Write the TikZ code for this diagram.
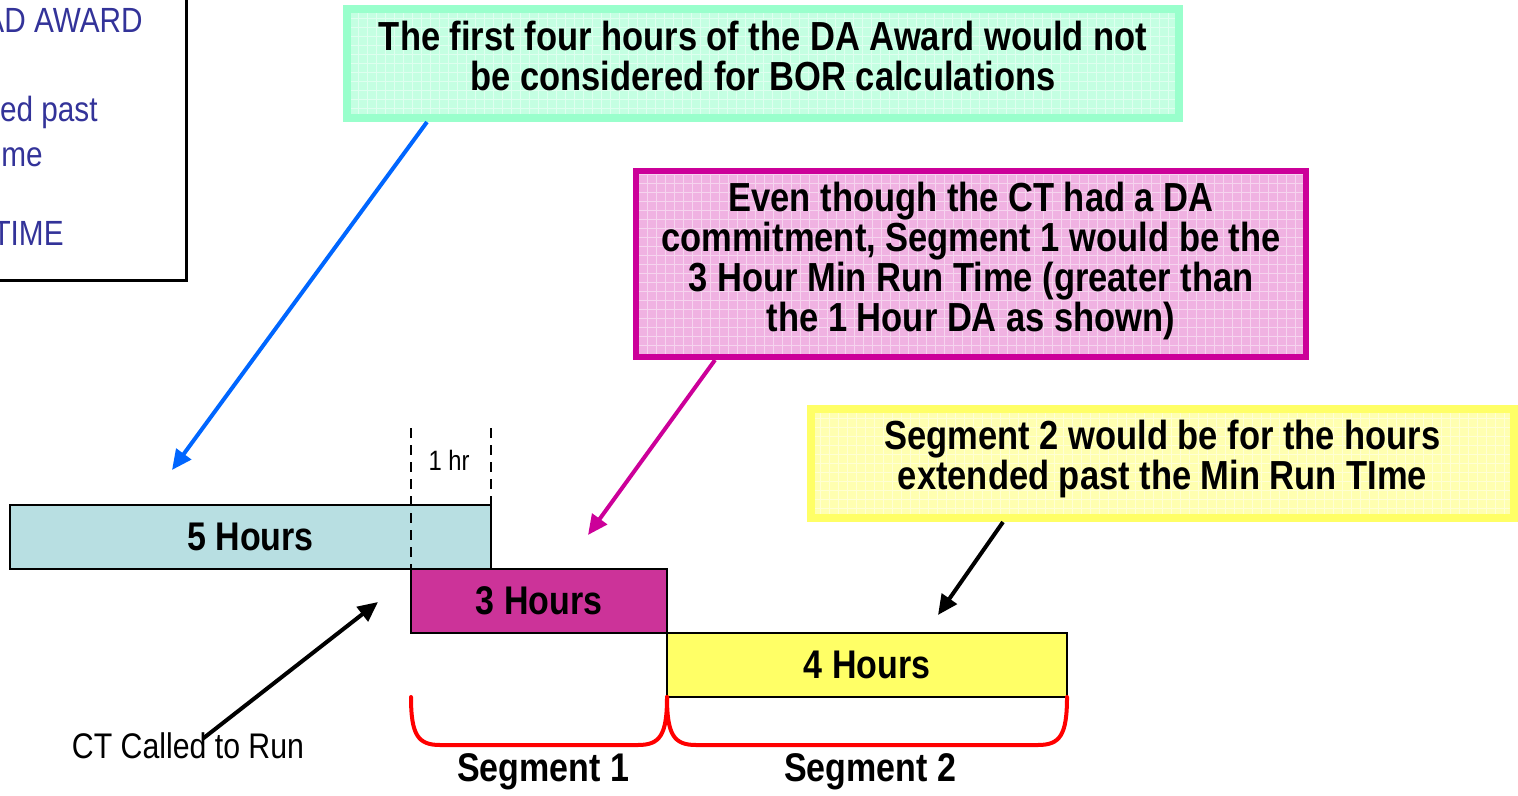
\documentclass[tikz,border=0pt]{standalone}
\usepackage{fontspec}
\setmainfont{Liberation Sans}[FakeStretch=0.85]
\usepackage{xcolor}
\usetikzlibrary{arrows.meta}

\definecolor{barteal}{RGB}{184,223,226}
\definecolor{barmagenta}{RGB}{204,51,153}
\definecolor{baryellow}{RGB}{255,255,102}
\definecolor{mintline}{RGB}{153,255,204}
\definecolor{mintfill}{RGB}{196,255,226}
\definecolor{pinkline}{RGB}{204,0,153}
\definecolor{pinkfill}{RGB}{240,178,226}
\definecolor{lemonfill}{RGB}{255,255,176}
\definecolor{awardblue}{RGB}{51,51,153}
\definecolor{arrowblue}{RGB}{0,102,255}

\tikzset{
  bar/.style={draw=black, line width=1pt, inner sep=0pt, font=\fontsize{20}{24}\selectfont\bfseries},
  callbox/.style={line width=4pt, inner sep=0pt,
    path picture={\draw[white, opacity=0.45, line width=0.4pt] (path picture bounding box.south west) grid[step=4.5pt] (path picture bounding box.north east);}},
  callout/.style={align=center, inner sep=0pt, font=\fontsize{20.3}{20}\selectfont\bfseries},
  pointer/.style={line width=2pt, -{Triangle[length=10pt,width=9pt]}},
  brace/.style={draw=red, line width=2pt, line cap=round},
  seglabel/.style={inner sep=0pt, font=\fontsize{20}{24}\selectfont\bfseries},
  awardtext/.style={text=awardblue, inner sep=0pt, font=\fontsize{17.5}{20}\selectfont}
}

\begin{document}
\begin{tikzpicture}[x=0.5pt,y=0.5pt,yscale=-1]

\useasboundingbox (0,0) rectangle (1518,796);
\clip (0,0) rectangle (1518,796);

\draw[line width=1.5pt] (-20,-20) rectangle (186,281);

\node[awardtext, anchor=base east] (awdone) at (143,33) {AD AWARD};
\node[awardtext, anchor=base east] (awdtwo) at (98,122) {ed past};
\node[awardtext, anchor=base east] (awdthree) at (43,167) {me};
\node[awardtext, anchor=base east] (awdfour) at (64,246) {TIME};

\node[callbox, draw=mintline, fill=mintfill, minimum width=416pt, minimum height=54.5pt] (firstfour) at (763,63.5) {};
\node[callout, anchor=north] (firstfourtxt) at (763,21) {The first four hours of the DA Award would not\\be considered for BOR calculations};

\node[callbox, line width=3pt, draw=pinkline, fill=pinkfill, minimum width=335pt, minimum height=93pt] (evenda) at (971,264) {};
\node[callout, anchor=north] (evendatxt) at (971,182) {Even though the CT had a DA\\commitment, Segment 1 would be the\\3 Hour Min Run Time (greater than\\the 1 Hour DA as shown)};

\node[callbox, draw=baryellow, fill=lemonfill, minimum width=351.5pt, minimum height=54.5pt] (segtwonote) at (1162.5,463.5) {};
\node[callout, anchor=north] (segtwonotetxt) at (1162.5,420) {Segment 2 would be for the hours\\extended past the Min Run TIme};

\node[bar, fill=barteal, minimum width=240.5pt, minimum height=32pt] (fivehr) at (250.5,537) {5 Hours};
\node[bar, fill=barmagenta, minimum width=128pt, minimum height=32pt] (threehr) at (539,601) {3 Hours};
\node[bar, fill=baryellow, minimum width=200pt, minimum height=32pt] (fourhr) at (867,665) {4 Hours};

\coordinate (dashl) at (411,428);
\coordinate (dashr) at (491,428);
\draw[line width=1.1pt, dash pattern=on 5pt off 3.5pt] (dashl) -- (dashl |- threehr.north);
\draw[line width=1.1pt, dash pattern=on 5pt off 3.5pt] (dashr) -- (dashr |- fivehr.north);
\node[inner sep=0pt, font=\fontsize{14}{16}\selectfont] (onehr) at (449,460) {1 hr};

\node[inner sep=0pt, font=\fontsize{17.8}{20}\selectfont] (ctcalled) at (188,746) {CT Called to Run};

\coordinate (bluetip) at (172,470);
\coordinate (pinktip) at (588,535);
\coordinate (yellowtip) at (938,615);
\coordinate (cttip) at (378,602);

\draw[pointer, color=arrowblue] ([xshift=42pt]firstfour.south west) -- (bluetip);
\draw[pointer, color=pinkline] ([xshift=41pt]evenda.south west) -- (pinktip);
\draw[pointer] ([xshift=98pt]segtwonote.south west) -- (yellowtip);
\draw[pointer] ([xshift=7.5pt,yshift=3pt]ctcalled.north) -- (cttip);

\draw[brace] (411,697) .. controls (411,735) and (418,745) .. (440,745) -- (638,745) .. controls (660,745) and (667,735) .. (667,697);
\draw[brace] (667,697) .. controls (667,735) and (674,745) .. (696,745) -- (1038,745) .. controls (1060,745) and (1067,735) .. (1067,697);

\node[seglabel] (segone) at (543,772) {Segment 1};
\node[seglabel] (segtwo) at (870,772) {Segment 2};

\end{tikzpicture}
\end{document}
